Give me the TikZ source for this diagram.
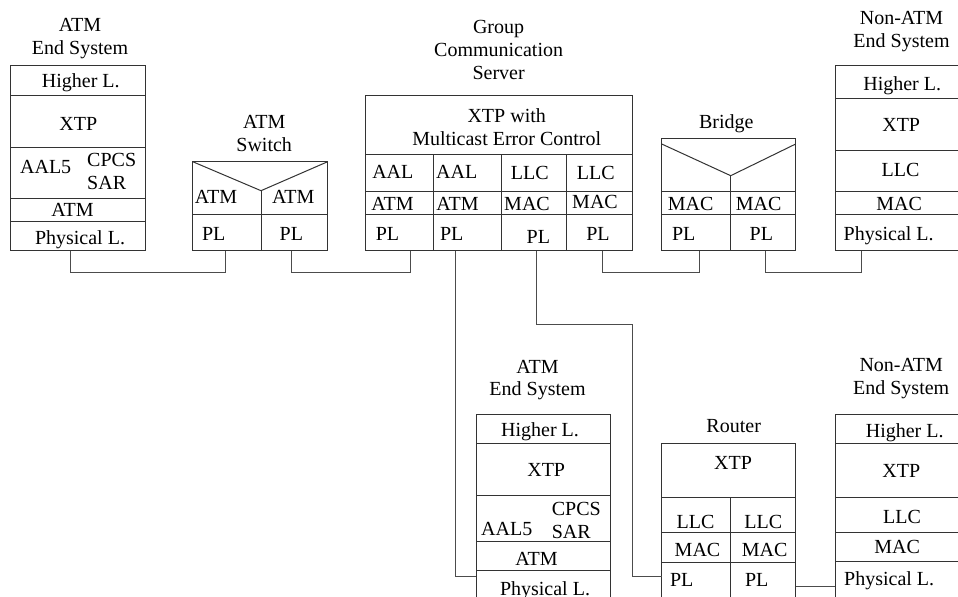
\documentclass[tikz,border=0pt]{standalone}
\usepackage{fontspec}
\setmainfont{Liberation Serif}
\begin{document}
\begin{tikzpicture}[x=0.5pt, y=-0.5pt, line width=0.5pt,
  every node/.style={font=\fontsize{10}{11.4}\selectfont, inner sep=0pt, align=center},
  layer/.style={draw=black!80},
  wire/.style={draw=black!70}]
\useasboundingbox (0,0) rectangle (958,597);
\clip (0,0) rectangle (958,597);

% ATM end system, left
\draw[layer] (10.7,65.7) rectangle (145,251);
\foreach \y in {95.7,147.3,199,221.3} \draw[layer] (10.7,\y) -- (145,\y);
\node (esA) at (80,38.3) {ATM\\End System};
\node (esA-hl) at (80.8,82.8) {Higher L.};
\node (esA-xtp) at (78.3,124.2) {XTP};
\node (esA-aal) at (45.7,166.7) {AAL5};
\node[align=left] (esA-cs) at (111.7,171.5) {CPCS\\SAR};
\node (esA-atm) at (72.5,210) {ATM};
\node (esA-pl) at (80,240) {Physical L.};

% ATM switch
\draw[layer] (192.7,161.7) rectangle (327.7,250.7);
\draw[layer] (192.7,161.7) -- (261,190.7) -- (327.7,161.7);
\draw[layer] (261,190.7) -- (261,250.7);
\draw[layer] (192.7,214.3) -- (327.7,214.3);
\node (sw) at (264.2,133.3) {ATM\\Switch};
\node (sw-atm1) at (216,196.7) {ATM};
\node (sw-atm2) at (293.3,196.7) {ATM};
\node (sw-pl1) at (213.7,233.7) {PL};
\node (sw-pl2) at (291.3,233.7) {PL};

% group communication server
\draw[layer] (365.7,95.7) rectangle (632.3,250.7);
\foreach \y in {154.3,191.7,214.3} \draw[layer] (365.7,\y) -- (632.3,\y);
\foreach \x in {433.3,501.7,566.7} \draw[layer] (\x,154.3) -- (\x,250.7);
\node (gcs) at (498.6,50) {Group\\Communication\\Server};
\node (gcs-xtp) at (506.7,127) {XTP with\\Multicast Error Control};
\node (gcs-aal1) at (392.8,171.7) {AAL};
\node (gcs-aal2) at (456.7,171.7) {AAL};
\node (gcs-llc3) at (529.7,173.3) {LLC};
\node (gcs-llc4) at (595.8,173.3) {LLC};
\node (gcs-atm1) at (392.5,203.7) {ATM};
\node (gcs-atm2) at (457.5,203.7) {ATM};
\node (gcs-mac3) at (527,203.7) {MAC};
\node (gcs-mac4) at (595,202.2) {MAC};
\node (gcs-pl1) at (387.5,233.7) {PL};
\node (gcs-pl2) at (451.7,233.7) {PL};
\node (gcs-pl3) at (538.3,237) {PL};
\node (gcs-pl4) at (598,233.7) {PL};

% bridge
\draw[layer] (661.7,138.3) rectangle (795.7,250.7);
\draw[layer] (661.7,144) -- (730.7,175.7) -- (795.7,144);
\draw[layer] (730.7,175.7) -- (730.7,250.7);
\foreach \y in {191.7,214.3} \draw[layer] (661.7,\y) -- (795.7,\y);
\node (br) at (726.3,123.3) {Bridge};
\node (br-mac1) at (690.7,203.7) {MAC};
\node (br-mac2) at (758.7,203.7) {MAC};
\node (br-pl1) at (683.7,233.7) {PL};
\node (br-pl2) at (761.3,233.7) {PL};

% non-ATM end system, top right
\draw[layer] (835,65.7) rectangle (969,251);
\foreach \y in {99,150.7,191.7,214.3} \draw[layer] (835,\y) -- (969,\y);
\node (esB) at (901.5,31.7) {Non-ATM\\End System};
\node (esB-hl) at (902.2,86.2) {Higher L.};
\node (esB-xtp) at (901.2,125) {XTP};
\node (esB-llc) at (900.5,169.7) {LLC};
\node (esB-mac) at (899.2,203.7) {MAC};
\node (esB-pl) at (888.7,235.3) {Physical L.};

% ATM end system, bottom
\draw[layer] (476,415) rectangle (610,640);
\foreach \y in {443.3,495.7,541.7,570.7} \draw[layer] (476,\y) -- (610,\y);
\node (esC) at (537.5,380) {ATM\\End System};
\node (esC-hl) at (540,432) {Higher L.};
\node (esC-xtp) at (546.2,470) {XTP};
\node (esC-aal) at (506.7,529.2) {AAL5};
\node[align=left] (esC-cs) at (576.3,520.8) {CPCS\\SAR};
\node (esC-atm) at (536.5,558.8) {ATM};
\node (esC-pl) at (545,590.5) {Physical L.};

% router
\draw[layer] (661.7,444) rectangle (795.7,640);
\foreach \y in {497.7,532.7,562.7} \draw[layer] (661.7,\y) -- (795.7,\y);
\draw[layer] (730.7,497.7) -- (730.7,640);
\node (rt) at (733.7,425.8) {Router};
\node (rt-xtp) at (733,463.3) {XTP};
\node (rt-llc1) at (695.5,521.7) {LLC};
\node (rt-llc2) at (763.3,521.7) {LLC};
\node (rt-mac1) at (697.5,550) {MAC};
\node (rt-mac2) at (764.6,550) {MAC};
\node (rt-pl1) at (681.7,580) {PL};
\node (rt-pl2) at (756.7,580) {PL};

% non-ATM end system, bottom right
\draw[layer] (835,415) rectangle (969,640);
\foreach \y in {443.3,498,532.7,562} \draw[layer] (835,\y) -- (969,\y);
\node (esD) at (901.2,378.3) {Non-ATM\\End System};
\node (esD-hl) at (904.7,432.5) {Higher L.};
\node (esD-xtp) at (901.3,470.8) {XTP};
\node (esD-llc) at (902,516.7) {LLC};
\node (esD-mac) at (897.2,547) {MAC};
\node (esD-pl) at (889.2,580.8) {Physical L.};

% links
\coordinate (esA-out) at (70,251);
\coordinate (sw-in) at (225,250.7);
\coordinate (sw-out) at (291.7,250.7);
\coordinate (gcs-in1) at (410,250.7);
\coordinate (gcs-in2) at (455,250.7);
\coordinate (gcs-in3) at (536.5,250.7);
\coordinate (gcs-in4) at (602.7,250.7);
\coordinate (br-in) at (699,250.7);
\coordinate (br-out) at (765.7,250.7);
\coordinate (esB-in) at (861,251);
\coordinate (esC-in) at (476,576.5);
\coordinate (rt-bend) at (632.5,324.3);
\coordinate (rt-in) at (661.7,576.5);
\coordinate (rt-out) at (795.7,586.7);
\coordinate (esD-in) at (835,586.7);
\draw[wire] (esA-out) -- ++(0,21.7) -| (sw-in);
\draw[wire] (sw-out) -- ++(0,22) -| (gcs-in1);
\draw[wire] (gcs-in4) -- ++(0,22) -| (br-in);
\draw[wire] (br-out) -- ++(0,22) -| (esB-in);
\draw[wire] (gcs-in2) |- (esC-in);
\draw[wire] (gcs-in3) |- (rt-bend) |- (rt-in);
\draw[wire] (rt-out) -- (esD-in);
\end{tikzpicture}
\end{document}
